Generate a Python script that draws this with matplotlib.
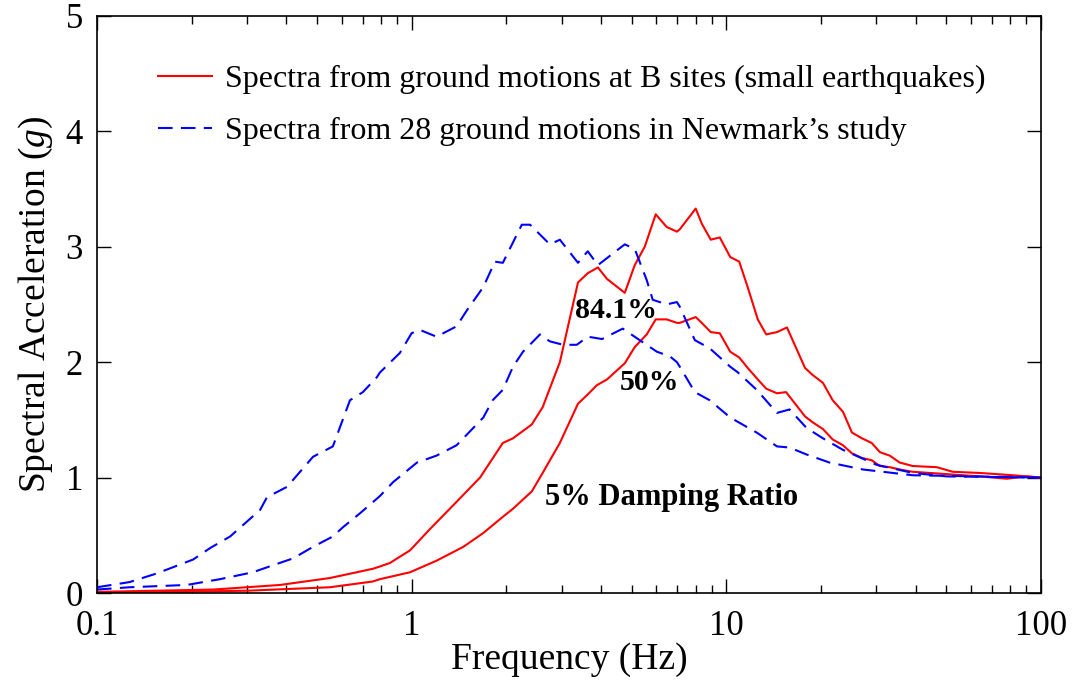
import matplotlib
matplotlib.use('Agg')
import matplotlib.pyplot as plt
from matplotlib.ticker import LogLocator, NullFormatter, FixedLocator

plt.rcParams['font.family'] = ['Liberation Serif', 'DejaVu Serif']
plt.rcParams['mathtext.fontset'] = 'custom'
plt.rcParams['mathtext.it'] = 'Liberation Serif:italic'
plt.rcParams['mathtext.rm'] = 'Liberation Serif'

# B sites, 84.1 percentile (red solid, upper)
freq_b84 = [0.1, 0.234, 0.382, 0.55, 0.753, 0.793, 0.853, 0.989, 1.14, 1.39, 1.65,
            1.95, 2.10, 2.41, 2.61, 2.96, 3.38, 3.63, 3.91, 4.18, 4.76, 5.12, 5.51,
            5.97, 6.47, 6.97, 7.12, 8.0, 8.36, 8.93, 9.54, 10.3, 11.0, 11.7, 12.6,
            13.4, 14.5, 15.6, 17.8, 18.8, 20.3, 21.8, 23.5, 25.1, 27.0, 29.0, 30.8,
            33.1, 35.6, 39.2, 46.7, 52.5, 64.0, 81.5, 100.0]
sa_b84 = [0.01, 0.03, 0.07, 0.13, 0.21, 0.23, 0.26, 0.37, 0.55, 0.79, 1.0,
          1.3, 1.34, 1.46, 1.61, 2.0, 2.69, 2.77, 2.82, 2.72, 2.6, 2.84, 3.0,
          3.28, 3.17, 3.13, 3.15, 3.33, 3.2, 3.06, 3.08, 2.91, 2.87, 2.65, 2.37,
          2.24, 2.26, 2.3, 1.95, 1.89, 1.82, 1.67, 1.57, 1.39, 1.34, 1.3, 1.22,
          1.19, 1.13, 1.1, 1.09, 1.05, 1.04, 1.02, 1.0]

# B sites, median (red solid, lower)
freq_b50 = [0.1, 0.3, 0.55, 0.753, 0.793, 0.989, 1.20, 1.46, 1.69, 1.95, 2.10,
            2.41, 2.61, 2.96, 3.38, 3.63, 3.88, 4.18, 4.76, 5.12, 5.59, 5.97, 6.47,
            6.97, 7.12, 8.0, 8.36, 8.93, 9.54, 10.3, 11.0, 11.7, 12.6, 13.4, 14.5,
            15.5, 17.8, 18.8, 20.3, 21.8, 23.5, 25.1, 27.0, 29.0, 30.8, 33.1, 35.6,
            39.2, 50.2, 64.0, 78.0, 90.0, 100.0]
sa_b50 = [0.0, 0.02, 0.05, 0.10, 0.12, 0.18, 0.28, 0.40, 0.52, 0.66, 0.73,
          0.88, 1.04, 1.3, 1.64, 1.72, 1.8, 1.85, 1.99, 2.13, 2.24, 2.37, 2.37,
          2.34, 2.34, 2.39, 2.34, 2.26, 2.25, 2.09, 2.04, 1.95, 1.85, 1.77, 1.73,
          1.74, 1.53, 1.48, 1.42, 1.33, 1.28, 1.21, 1.17, 1.15, 1.1, 1.09, 1.07,
          1.05, 1.03, 1.01, 0.99, 1.01, 1.0]

# Newmark, 84.1 percentile (blue dashed, upper)
freq_n84 = [0.1, 0.127, 0.155, 0.202, 0.229, 0.265, 0.330, 0.347, 0.402, 0.486,
            0.562, 0.637, 0.700, 0.776, 0.793, 0.918, 1.0, 1.06, 1.20, 1.39, 1.50,
            1.69, 1.84, 1.95, 2.24, 2.38, 2.75, 2.96, 3.38, 3.63, 3.91, 4.76, 5.12,
            5.59, 5.84, 6.47, 6.97, 7.12, 7.95, 8.86, 10.3, 10.9, 12.5, 14.5, 15.9,
            18.0, 20.3, 23.5, 30.1, 39.2, 50.2, 100.0]
sa_n84 = [0.05, 0.095, 0.17, 0.29, 0.39, 0.49, 0.72, 0.83, 0.92, 1.18,
          1.27, 1.67, 1.74, 1.87, 1.91, 2.08, 2.25, 2.28, 2.22, 2.31, 2.45,
          2.65, 2.87, 2.86, 3.19, 3.19, 3.02, 3.06, 2.86, 2.96, 2.84, 3.02, 2.98,
          2.71, 2.54, 2.5, 2.52, 2.48, 2.19, 2.12, 1.96, 1.91, 1.76, 1.56, 1.59,
          1.43, 1.34, 1.24, 1.11, 1.04, 1.01, 1.0]

# Newmark, median (blue dashed, lower)
freq_n50 = [0.1, 0.127, 0.193, 0.246, 0.313, 0.362, 0.420, 0.486, 0.562, 0.605,
            0.685, 0.793, 0.873, 1.04, 1.20, 1.39, 1.69, 1.81, 1.95, 2.10, 2.26,
            2.56, 2.75, 3.03, 3.35, 3.63, 4.03, 4.69, 5.31, 6.02, 6.62, 6.97, 7.12,
            7.95, 8.86, 10.3, 12.5, 14.5, 15.9, 18.0, 21.3, 27.2, 39.2, 100.0]
sa_n50 = [0.03, 0.05, 0.07, 0.12, 0.18, 0.24, 0.30, 0.40, 0.49, 0.57,
          0.69, 0.84, 0.96, 1.13, 1.19, 1.28, 1.52, 1.67, 1.76, 1.96, 2.09,
          2.24, 2.18, 2.15, 2.15, 2.22, 2.2, 2.29, 2.19, 2.09, 2.05, 2.0, 1.96,
          1.74, 1.67, 1.52, 1.39, 1.27, 1.26, 1.2, 1.13, 1.07, 1.02, 1.0]

label_b = 'Spectra from ground motions at B sites (small earthquakes)'
label_n = "Spectra from 28 ground motions in Newmark\u2019s study"

fig = plt.figure(figsize=(10.73, 6.84), dpi=100)
ax = fig.add_axes([0.0904, 0.133, 0.8796, 0.844])

dash = (0, (7, 4))
ax.plot(freq_b84, sa_b84, color='red', lw=1.5, label=label_b)
ax.plot(freq_b50, sa_b50, color='red', lw=1.5)
ax.plot(freq_n84, sa_n84, color='blue', lw=1.5, ls=dash, label=label_n)
ax.plot(freq_n50, sa_n50, color='blue', lw=1.5, ls=dash)

ax.set_xscale('log')
ax.set_xlim(0.1, 100)
ax.set_ylim(0, 5)
ax.xaxis.set_major_locator(FixedLocator([0.1, 1, 10, 100]))
ax.set_xticklabels(['0.1', '1', '10', '100'])
ax.xaxis.set_minor_locator(LogLocator(base=10, subs=range(2, 10)))
ax.xaxis.set_minor_formatter(NullFormatter())
ax.set_yticks([0, 1, 2, 3, 4, 5])

ax.tick_params(which='both', direction='in', top=True, right=True,
               labelsize=25, width=1.0)
ax.tick_params(axis='x', pad=12)
ax.tick_params(axis='y', pad=10)
ax.tick_params(which='major', length=10)
ax.tick_params(which='minor', length=6)
for s in ax.spines.values():
    s.set_linewidth(1.2)

ax.set_xlabel('Frequency (Hz)', fontsize=27, labelpad=0)
ax.set_ylabel('Spectral Acceleration ($g$)', fontsize=27, labelpad=8)

ax.text(3.30, 2.45, '84.1%', fontsize=21.5, fontweight='bold', va='center')
ax.text(4.59, 1.82, '50%', fontsize=21.5, fontweight='bold', va='center')
ax.text(2.65, 0.83, '5% Damping Ratio', fontsize=22, fontweight='bold', va='center')

ax.legend(loc='upper left', bbox_to_anchor=(0.034, 0.965), frameon=False,
          fontsize=23, handlelength=1.7, handletextpad=0.4, labelspacing=0.7)

fig.savefig('out.png', dpi=100)
